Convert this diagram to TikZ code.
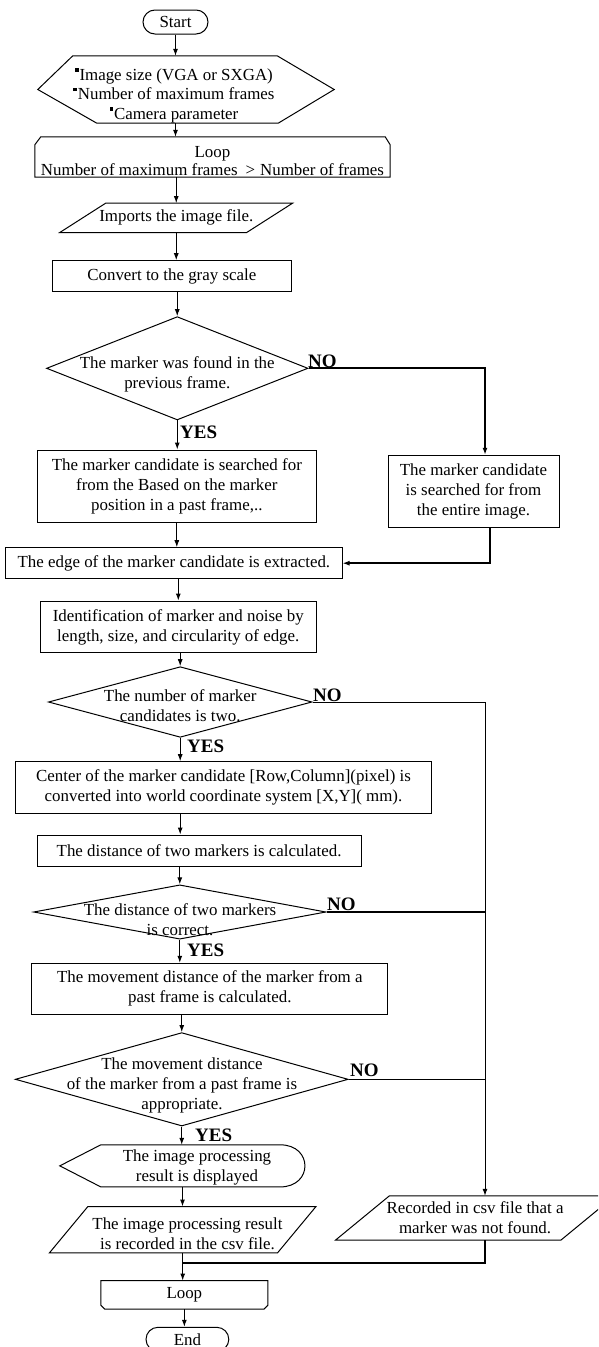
\documentclass[tikz,border=0pt]{standalone}
\usepackage{fontspec}
\setmainfont{Liberation Serif}
\usetikzlibrary{arrows.meta,shapes.geometric,calc}
\newcommand\fBody{\fontsize{16.9pt}{20pt}\selectfont}
\newcommand\fHex{\fontsize{16.9pt}{19.5pt}\selectfont}
\newcommand\fLoop{\fontsize{16.9pt}{18.5pt}\selectfont}
\newcommand\fLab{\fontsize{19pt}{20pt}\selectfont\bfseries}
\newcommand\sqb{\rule[0.5em]{0.2em}{0.2em}\kern1pt}
\begin{document}
\begin{tikzpicture}[x=1pt,y=-1pt,
  box/.style={draw, line width=1pt, rectangle, inner sep=0pt, align=center, font=\fBody},
  ghost/.style={rectangle, inner sep=0pt, align=center, font=\fBody},
  dec/.style={diamond, draw, line width=1pt, inner sep=0pt},
  txt/.style={inner sep=0pt, align=center, font=\fBody},
  lab/.style={inner sep=0pt, anchor=base west, font=\fLab},
  arr/.style={-{Latex[length=7pt,width=5pt]}, line width=1pt},
  heavy/.style={line width=2pt},
  term/.style={draw, line width=1pt, rounded corners=12pt, inner sep=0pt, font=\fBody, minimum height=24pt},
  outline/.style={draw, line width=1pt, line join=miter}]
\useasboundingbox (0,0) rectangle (598,1347);
\clip (0,0) rectangle (598,1347);

% start
\node[term, minimum width=65pt] (start) at (175.5,22) {Start};

% hexagon
\node[ghost, minimum width=296pt, minimum height=67pt] (hex) at (186,89.5) {};
\draw[outline] (hex.west) -- ([xshift=35pt]hex.north west) -- ([xshift=-57pt]hex.north east) -- (hex.east) -- ([xshift=-56pt]hex.south east) -- ([xshift=59pt]hex.south west) -- cycle;
\node[txt, font=\fHex] (hext) at (174,95.5) {\sqb Image size (VGA or SXGA)\\ \sqb Number of maximum frames\\ \sqb Camera parameter};

% loop start
\node[ghost, minimum width=355pt, minimum height=40pt] (loop1) at (212.5,157) {};
\draw[outline] ([yshift=-8pt]loop1.north west) -- ([xshift=6pt]loop1.north west) -- ([xshift=-5pt]loop1.north east) -- ([yshift=-8pt]loop1.north east) -- (loop1.south east) -- (loop1.south west) -- cycle;
\node[txt, font=\fLoop] (loop1t) at ([yshift=-4pt]loop1.center) {Loop\\Number of maximum frames\hspace{8pt}>\hspace{5pt}Number of frames};

% imports
\node[ghost, minimum width=232.5pt, minimum height=29pt] (imp) at (176.25,217.8) {Imports the image file.};
\draw[outline] (imp.south west) -- ([xshift=46pt]imp.north west) -- (imp.north east) -- ([xshift=-46pt]imp.south east) -- cycle;

% gray
\node[box, minimum width=238.4pt, minimum height=30.6pt] (gray) at (171.8,276) {Convert to the gray scale};

% decision 1
\node[dec, minimum width=261.5pt, minimum height=103.3pt] (d1) at (177.25,368.3) {};
\node[txt] (d1t) at (177.3,374) {The marker was found in the\\previous frame.};

% right box
\node[box, minimum width=171pt, minimum height=72.4pt] (rbox) at (473.5,491.5) {The marker candidate\\is searched for from\\the entire image.};

% box1
\node[box, minimum width=279.6pt, minimum height=72pt] (box1) at (176.8,486) {The marker candidate is searched for\\from the Based on the marker\\position in a past frame,..};

% edge
\node[box, minimum width=336.3pt, minimum height=31pt] (edge) at (173.9,563.2) {The edge of the marker candidate is extracted.};

% ident
\node[box, minimum width=276.6pt, minimum height=51.7pt] (ident) at (178.3,626.9) {Identification of marker and noise by\\length, size, and circularity of edge.};

% decision 2
\node[dec, minimum width=263.6pt, minimum height=70.6pt] (d2) at (180.2,702) {};
\node[txt] (d2t) at (180.2,706) {The number of marker\\candidates is two.};

% center box
\node[box, minimum width=416.4pt, minimum height=51.6pt] (cbox) at (223.5,787.5) {Center of the marker candidate [Row,Column](pixel) is\\converted into world coordinate system [X,Y]( mm).};

% distance
\node[box, minimum width=324.2pt, minimum height=31pt] (dist) at (199.1,850.5) {The distance of two markers is calculated.};

% decision 3
\node[dec, minimum width=292.4pt, minimum height=54.3pt] (d3) at (179.8,912) {};
\node[txt] (d3t) at (180,919.3) {The distance of two markers\\is correct.};

% movement
\node[box, minimum width=356.2pt, minimum height=51pt] (move) at (209.8,988.8) {The movement distance of the marker from a\\past frame is calculated.};

% decision 4
\node[dec, minimum width=332.9pt, minimum height=93.4pt] (d4) at (181.75,1079.3) {};
\node[txt] (d4t) at (182,1085) {The movement distance\\of the marker from a past frame is\\appropriate.};

% display
\node[ghost, minimum width=245pt, minimum height=41.7pt] (disp) at (182.5,1165.85) {};
\draw[outline] (disp.west) -- ([xshift=41pt]disp.north west) -- ([xshift=-25pt]disp.north east) .. controls ([xshift=8pt]disp.north east) and ([xshift=8pt]disp.south east) .. ([xshift=-25pt]disp.south east) -- ([xshift=41pt]disp.south west) -- cycle;
\node[txt] (dispt) at (197,1167.3) {The image processing\\result is displayed};

% record
\node[ghost, minimum width=266.2pt, minimum height=46pt] (rec) at (182.7,1229.7) {};
\draw[outline] (rec.south west) -- ([xshift=38.5pt]rec.north west) -- (rec.north east) -- ([xshift=-38.5pt]rec.south east) -- cycle;
\node[txt] (rect) at (187.5,1233.7) {The image processing result\\is recorded in the csv file.};

% csv not found
\node[ghost, minimum width=279pt, minimum height=44pt] (csv) at (475.1,1218) {Recorded in csv file that a\\marker was not found.};
\draw[outline] (csv.south west) -- ([xshift=54pt]csv.north west) -- (csv.north east) -- ([xshift=-54pt]csv.south east) -- cycle;

% loop end
\node[ghost, minimum width=166.7pt, minimum height=28.3pt] (loop2) at (184.35,1294.85) {Loop};
\draw[outline] (loop2.north west) -- (loop2.north east) -- ([yshift=4pt]loop2.south east) -- ([xshift=-4pt]loop2.south east) -- ([xshift=4pt]loop2.south west) -- ([yshift=4pt]loop2.south west) -- cycle;

% end
\node[term, minimum width=82.8pt] (stop) at (187.4,1339.3) {End};

% connectors
\coordinate (rx) at (485,368.3);
\draw[arr] (start.south) -- (start.south |- hex.north);
\draw[arr] (hex.south -| start.south) -- (start.south |- loop1.north);
\draw[arr] (loop1.south -| imp.north) -- (imp.north);
\draw[arr] (imp.south) -- (imp.south |- gray.north);
\draw[arr] (gray.south -| d1.north) -- (d1.north);
\draw[arr] (d1.south) -- (d1.south |- box1.north);
\draw[arr, heavy] (d1.east) -- (rx) -- (rx |- rbox.north);
\draw[arr, heavy] ([xshift=16pt]rbox.south) |- (edge.east);
\draw[arr] (box1.south) -- (box1.south |- edge.north);
\draw[arr] (edge.south -| ident.north) -- (ident.north);
\draw[arr] (ident.south -| d2.north) -- (d2.north);
\draw[arr] (d2.south) -- (d2.south |- cbox.north);
\draw[arr] (d2.east) -- (d2.east -| rx) -- (rx |- csv.north);
\draw[arr] (cbox.south -| d2.south) -- (d2.south |- dist.north);
\draw[arr] (dist.south -| d3.north) -- (d3.north);
\draw[heavy] (d3.east) -- (d3.east -| rx);
\draw[arr] (d3.south) -- (d3.south |- move.north);
\draw[arr] (move.south -| d4.north) -- (d4.north);
\draw[line width=1.4pt] (d4.east) -- (d4.east -| rx);
\draw[arr] (d4.south) -- (d4.south |- disp.north);
\draw[arr] (disp.south) -- (disp.south |- rec.north);
\path (rec.south) ++(0,10) coordinate (merge);
\draw[heavy] (rx |- csv.south) |- (merge);
\draw[arr] (rec.south) -- (rec.south |- loop2.north);
\draw[arr] (loop2.south) -- (loop2.south |- stop.north);

% labels
\node[lab] (no1) at (308,367) {NO};
\node[lab] (yes1) at (180,438) {YES};
\node[lab] (no2) at (313,701) {NO};
\node[lab] (yes2) at (187,752) {YES};
\node[lab] (no3) at (327,910) {NO};
\node[lab] (yes3) at (187,956) {YES};
\node[lab] (no4) at (350,1076) {NO};
\node[lab] (yes4) at (195,1141) {YES};
\end{tikzpicture}
\end{document}
